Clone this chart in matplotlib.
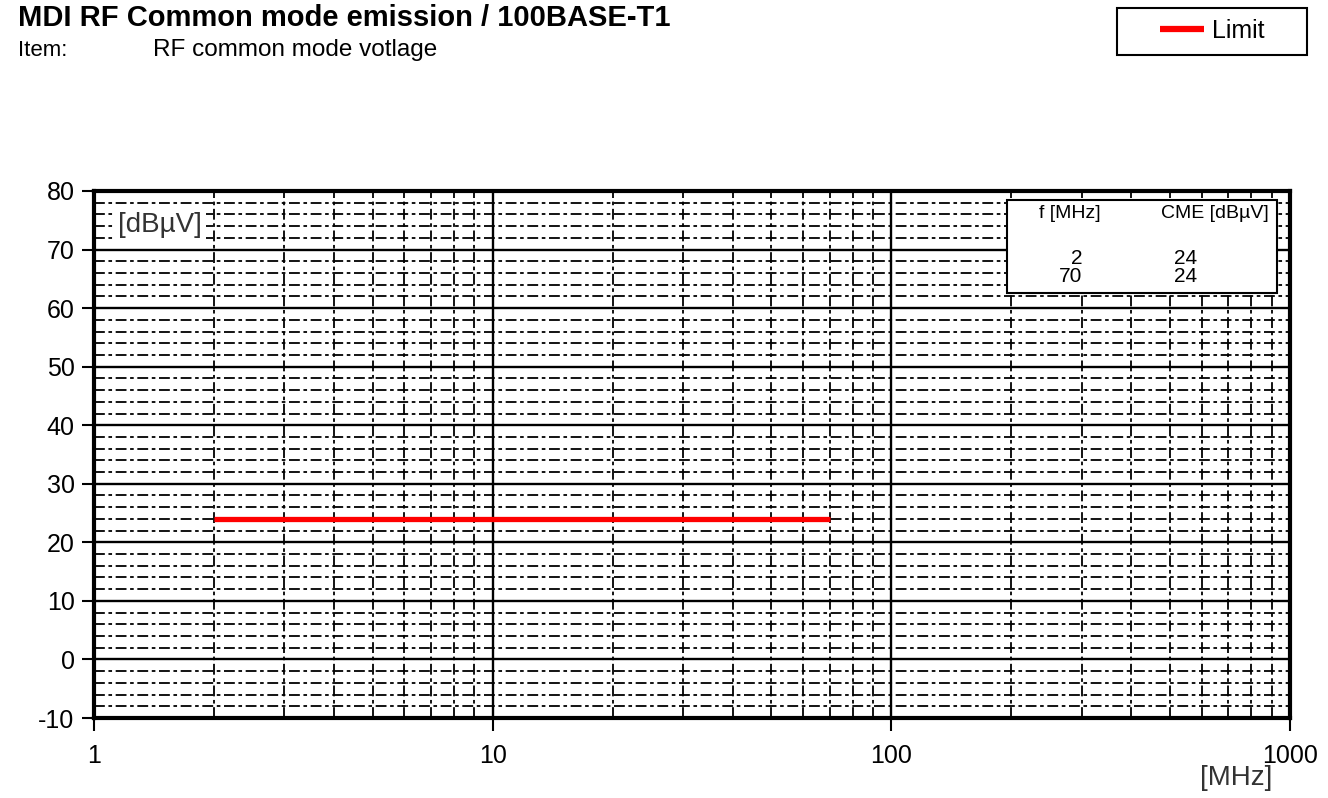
import numpy as np
import matplotlib.pyplot as plt
from matplotlib.ticker import FixedLocator, NullFormatter
from matplotlib.patches import Rectangle

plt.rcParams['font.family'] = ['Liberation Sans', 'DejaVu Sans']
plt.rcParams['axes.unicode_minus'] = False

# limit line data
limit_f = [2, 70]
limit_cme = [24, 24]

x_ticks = [1, 10, 100, 1000]
y_ticks = [-10, 0, 10, 20, 30, 40, 50, 60, 70, 80]

fig = plt.figure(figsize=(13.28, 7.98), dpi=100)
ax = fig.add_axes([94 / 1328, 1 - 718 / 798, (1290 - 94) / 1328, (718 - 191) / 798])

ax.set_xscale('log')
ax.set_xlim(1, 1000)
ax.set_ylim(-10, 80)

# grid
minor_x = [m * 10 ** d for d in range(3) for m in range(2, 10)]
minor_y = [v for v in range(-10, 81, 2) if v % 10 != 0]
for v in minor_y:
    ax.axhline(v, color='black', lw=1.3, ls=(0, (6, 2, 2, 2)), zorder=1)
for v in minor_x:
    ax.axvline(v, color='black', lw=1.3, ls=(0, (6, 2, 2, 2)), zorder=1)
for v in y_ticks:
    ax.axhline(v, color='black', lw=1.7, zorder=1)
for v in x_ticks:
    ax.axvline(v, color='black', lw=1.7, zorder=1)

line, = ax.plot(limit_f, limit_cme, color='#ff0000', lw=3.8, solid_capstyle='butt',
                zorder=3, label='Limit')

ax.xaxis.set_major_locator(FixedLocator(x_ticks))
ax.xaxis.set_minor_locator(FixedLocator(minor_x))
ax.xaxis.set_minor_formatter(NullFormatter())
ax.set_xticklabels([str(v) for v in x_ticks])
ax.set_yticks(y_ticks)
ax.tick_params(which='major', direction='out', length=9, width=1.5, labelsize=18, pad=5)
ax.tick_params(axis='x', pad=10)
ax.tick_params(which='minor', length=0)
for s in ax.spines.values():
    s.set_linewidth(3)

# unit label inside top-left
ax.text(0.02, 0.935, '[dBµV]', transform=ax.transAxes, fontsize=20, va='center', ha='left',
        color='#333333', zorder=5,
        bbox=dict(facecolor='white', edgecolor='none', pad=3))

# table box
ax.add_patch(Rectangle((0.763, 0.806), 0.226, 0.177, transform=ax.transAxes,
                       facecolor='white', edgecolor='black', lw=1.5, zorder=4))
ax.text((1070 - 94) / 1196, (718 - 214) / 527, 'f [MHz]', transform=ax.transAxes,
        fontsize=14, ha='center', va='center', zorder=5)
ax.text((1215 - 94) / 1196, (718 - 214) / 527, 'CME [dBµV]', transform=ax.transAxes,
        fontsize=14, ha='center', va='center', zorder=5)
for i, (f, c) in enumerate(zip(limit_f, limit_cme)):
    yy = (718 - 258 - 18 * i) / 527
    ax.text((1082 - 94) / 1196, yy, str(f), transform=ax.transAxes,
            fontsize=15, ha='right', va='center', zorder=5)
    ax.text((1197 - 94) / 1196, yy, str(c), transform=ax.transAxes,
            fontsize=15, ha='right', va='center', zorder=5)

ax.text(1236 / 1328, 1 - 778 / 798, '[MHz]', transform=fig.transFigure,
        fontsize=20, ha='center', va='center', color='#333333')

# titles
fig.text(18 / 1328, 1 - 18 / 798, 'MDI RF Common mode emission / 100BASE-T1',
         fontsize=21, fontweight='bold', ha='left', va='center')
fig.text(18 / 1328, 1 - 50 / 798, 'Item:', fontsize=16, ha='left', va='center')
fig.text(153 / 1328, 1 - 50 / 798, 'RF common mode votlage', fontsize=17.5, ha='left', va='center')

# legend
fig.patches.append(Rectangle((1117 / 1328, 1 - 55 / 798), 190 / 1328, 47 / 798,
                             transform=fig.transFigure, facecolor='white',
                             edgecolor='black', lw=1.5))
leg = fig.legend(handles=[line], loc='center left',
                 bbox_to_anchor=(1160 / 1328, 1 - 31 / 798), fontsize=18,
                 frameon=False, handlelength=1.75, borderpad=0, borderaxespad=0,
                 handletextpad=0.35)
leg.get_lines()[0].set_linewidth(4.5)

fig.savefig('out.png', dpi=100)
